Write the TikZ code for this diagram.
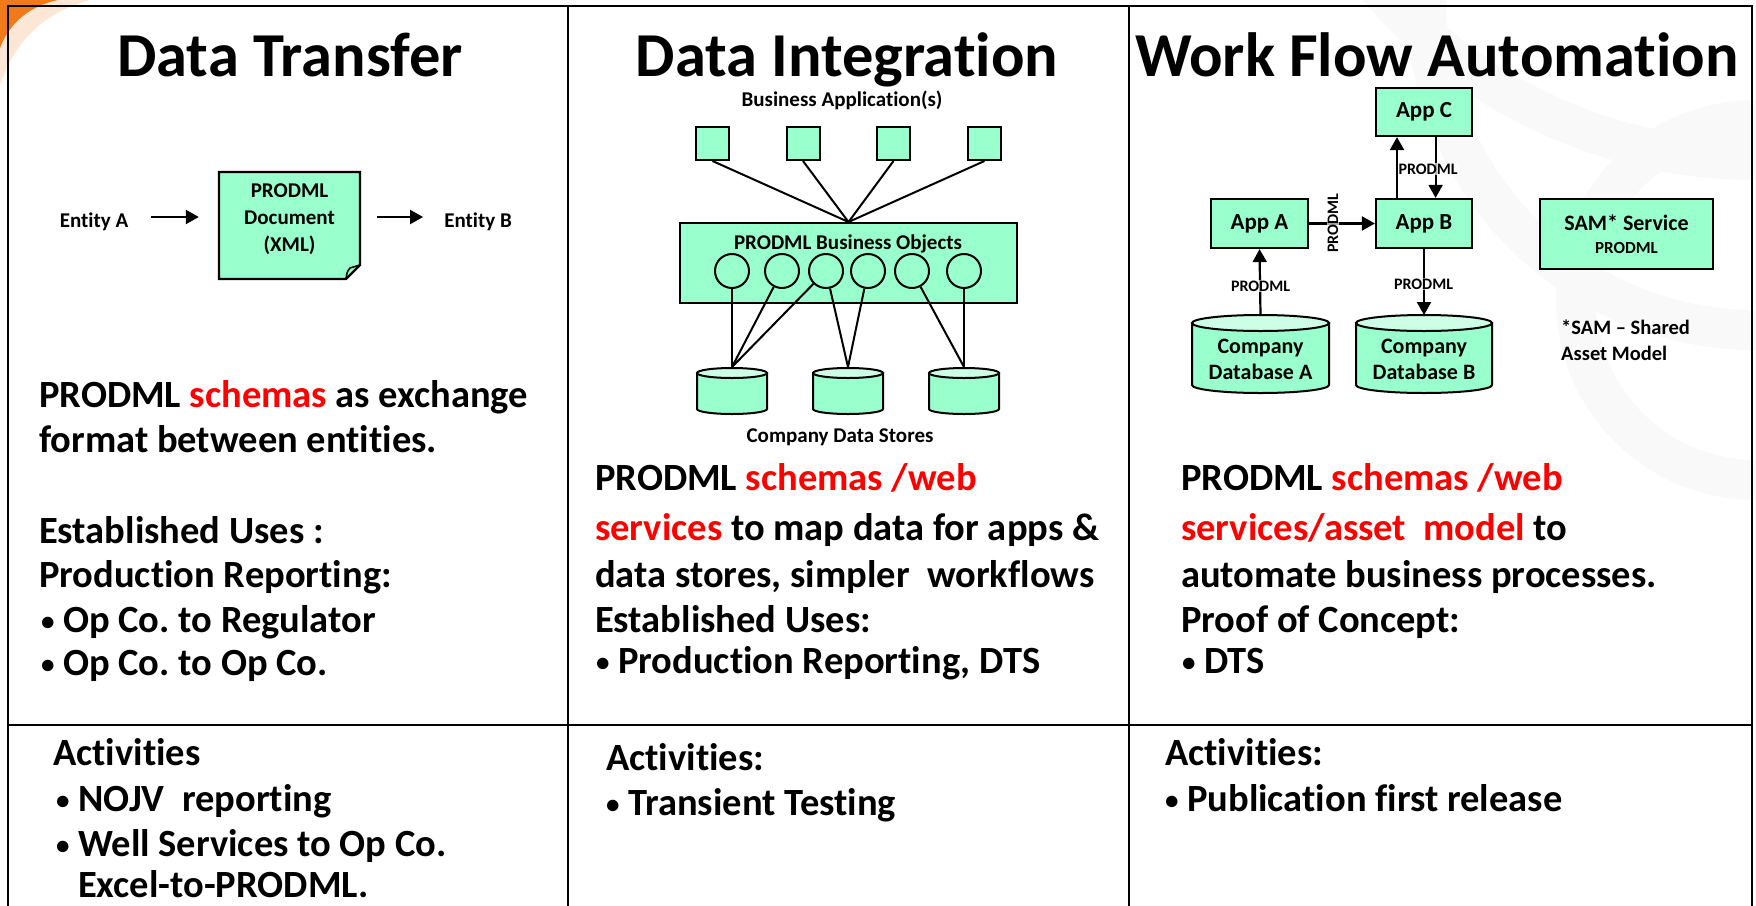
\documentclass[tikz,border=0pt]{standalone}
\usepackage{fontspec}
\setmainfont{Carlito}[Ligatures=NoCommon]
\usetikzlibrary{arrows.meta}
\definecolor{mint}{HTML}{99FFCC}
\definecolor{mintl}{HTML}{CCFFE6}
\definecolor{pred}{HTML}{FF0000}
\definecolor{orng}{HTML}{F07A1A}
\frenchspacing
\newcommand{\fs}[1]{\fontsize{#1}{#1}\selectfont\bfseries}
\newcommand{\bul}{\makebox[22pt][l]{\raisebox{2pt}{\fontsize{27}{27}\selectfont •}}}
\newcommand{\rd}[1]{\textcolor{pred}{#1}}
\newcommand{\dbcyl}[6]{%
  \filldraw[fill=mint, line width=2pt] (#2-#5,#3) -- (#2-#5,#4) arc[start angle=180,end angle=0,x radius=#5,y radius=#6] -- (#2+#5,#3) -- cycle;
  \filldraw[fill=mintl, line width=2pt] (#2,#3) ellipse[x radius=#5, y radius=#6];
  \coordinate (#1) at (#2,#3-#6);}
\begin{document}
\begin{tikzpicture}[x=1pt,y=-1pt,
  grid/.style={line width=2.5pt, black},
  box/.style={draw, line width=2.2pt, fill=mint, inner sep=0pt},
  title/.style={anchor=base, inner sep=0pt, font=\fs{62.5}},
  body/.style={anchor=base west, inner sep=0pt, font=\fs{38.5}},
  small/.style={inner sep=0pt, font=\fs{21}},
  arr/.style={-{Triangle[length=13pt,width=14pt]}, line width=2.2pt},
  lbl/.style={font=\fs{16}, inner sep=1pt, fill=white, fill opacity=0.7, text opacity=1},
  link/.style={line width=2pt},
]
\useasboundingbox (0,0) rectangle (1756,905);
\fill[white] (0,0) rectangle (1756,905);
% faint watermark arcs
\begin{scope}[black!2.5, line width=40pt]
  \draw (1756,330) arc[start angle=90, end angle=270, radius=330];
  \draw (1756,480) arc[start angle=90, end angle=270, radius=180];
  \draw (1756,160) arc[start angle=90, end angle=270, radius=500];
\end{scope}
% orange corner
\fill[orng!18] (0,0) -- (90,0) .. controls (45,12) and (15,40) .. (0,85) -- cycle;
\fill[orng] (0,0) -- (58,0) .. controls (30,6) and (10,22) .. (0,48) -- cycle;
% grid
\draw[grid] (8,930) -- (8,6) -- (1752,6) -- (1752,930);
\draw[grid] (568,6) -- (568,930);
\draw[grid] (1129,6) -- (1129,930);
\draw[grid] (8,725) -- (1752,725);
% titles
\node[title] (t1) at (290,76) {Data Transfer};
\node[title] (t2) at (847,76) {Data Integration};
\node[title] (t3) at (1437,76) {Work Flow Automation};
% ---- column 1 diagram
\node[small, anchor=base] (ea) at (94,227) {Entity A};
\node[small, anchor=base] (eb) at (478,227) {Entity B};
\node[inner sep=0pt, minimum width=141, minimum height=107] (doc) at (289.5,225.5) {};
\filldraw[fill=mint, line width=2.2pt] (219,172) -- (360,172) -- (360,265) -- (346,279) -- (219,279) -- cycle;
\draw[line width=1.6pt] (346,279) .. controls (347,272) .. (350,268) -- (360,265);
\node[inner sep=0pt, align=center, font=\fontsize{21}{27}\selectfont\bfseries] (doct) at (289.5,219) {PRODML\\Document\\(XML)};
\coordinate (ay) at (0,217);
\draw[arr, shorten <=23pt, shorten >=20pt] (ea.east |- ay) -- (doc.west |- ay);
\draw[arr, shorten <=17pt, shorten >=21pt] (doc.east |- ay) -- (eb.west |- ay);
% ---- column 2 diagram
\node[small, anchor=base] (ba) at (842,106) {Business Application(s)};
\node[box, line width=2pt, minimum size=33] (s1) at (712.5,143.5) {};
\node[box, line width=2pt, minimum size=33] (s2) at (803,143.5) {};
\node[box, line width=2pt, minimum size=33] (s3) at (893.5,143.5) {};
\node[box, line width=2pt, minimum size=33] (s4) at (984.5,143.5) {};
\node[box, line width=2pt, minimum width=337, minimum height=80] (bo) at (848.5,263) {};
\foreach \s in {s1,s2,s3,s4} \draw[link] (\s.south) -- (bo.north);
\node[small, anchor=base] (bot) at (848,249) {PRODML Business Objects};
\foreach \n/\x in {c1/732,c2/782,c3/826,c4/868,c5/912,c6/964}
  \node[circle, draw, line width=2pt, minimum size=34, inner sep=0pt] (\n) at (\x,271) {};
\coordinate (d1) at (732,367);
\coordinate (d2) at (848,367);
\coordinate (d3) at (964,367);
\draw[link] (c1) -- (d1);
\draw[link] (c2) -- (d1);
\draw[link] (c3) -- (d1);
\draw[link] (c3) -- (d2);
\draw[link] (c4) -- (d2);
\draw[link] (c5) -- (d3);
\draw[link] (c6) -- (d3);
\dbcyl{cy1}{732}{373}{409}{35}{5}
\dbcyl{cy2}{848}{373}{409}{35}{5}
\dbcyl{cy3}{964}{373}{409}{35}{5}
\node[small, anchor=base] (cds) at (840,442) {Company Data Stores};
% ---- column 3 diagram
\node[box, minimum width=96, minimum height=48, font=\fs{23}] (appc) at (1424,112) {App C};
\node[box, minimum width=97, minimum height=49, font=\fs{23}] (appa) at (1259.5,223.5) {App A};
\node[box, minimum width=96, minimum height=49, font=\fs{23}] (appb) at (1424,223.5) {App B};
\node[box, minimum width=173, minimum height=70] (sam) at (1626.5,234) {};
\node[anchor=base, inner sep=0pt, font=\fs{22}] (samt) at (1626.5,230) {SAM* Service};
\node[anchor=base, inner sep=0pt, font=\fs{17}] (samp) at (1626.5,253) {PRODML};
\node[anchor=base west, inner sep=0pt, font=\fs{20.5}] (note1) at (1561,334) {*SAM – Shared};
\node[anchor=base west, inner sep=0pt, font=\fs{20.5}] (note2) at (1561,360) {Asset Model};
\dbcyl{cya}{1260.5}{323}{385}{68.5}{8}
\dbcyl{cyb}{1424}{323}{385}{68}{8}
\node[anchor=base, inner sep=0pt, font=\fs{22}] (cyat1) at (1260.5,353) {Company};
\node[anchor=base, inner sep=0pt, font=\fs{22}] (cyat2) at (1260.5,379) {Database A};
\node[anchor=base, inner sep=0pt, font=\fs{22}] (cybt1) at (1424,353) {Company};
\node[anchor=base, inner sep=0pt, font=\fs{22}] (cybt2) at (1424,379) {Database B};
\coordinate (u) at (1397,0);
\coordinate (v) at (1435.6,0);
\draw[arr] (cya) -- (appa.south);
\draw[arr] (appa) -- (appb);
\draw[arr] (appb.north -| u) -- (appc.south -| u);
\draw[arr] (appc.south -| v) -- (appb.north -| v);
\draw[arr] (appb.south) -- (cyb);
\node[lbl] (l1) at (1260.5,286) {PRODML};
\node[lbl, rotate=90] (l2) at (1333,223) {PRODML};
\node[lbl] (l3) at (1428,169) {PRODML};
\node[lbl] (l4) at (1423.5,284) {PRODML};
% ---- body text column 1
\node[body] (a1) at (39,407) {PRODML \rd{schemas} as exchange};
\node[body] (a2) at (39,452) {format between entities.};
\node[body] (a3) at (39,543) {Established Uses :};
\node[body] (a4) at (39,587) {Production Reporting:};
\node[body] (a5) at (41,632) {\bul Op Co. to Regulator};
\node[body] (a6) at (41,675) {\bul Op Co. to Op Co.};
% column 2
\node[body] (b1) at (595,490) {PRODML \rd{schemas /web}};
\node[body] (b2) at (595,540) {\rd{services} to map data for apps \&};
\node[body] (b3) at (595,587) {data stores, simpler\ \ workflows};
\node[body] (b4) at (595,632) {Established Uses:};
\node[body] (b5) at (596,673) {\bul Production Reporting, DTS};
% column 3
\node[body] (c31) at (1181,490) {PRODML \rd{schemas /web}};
\node[body] (c32) at (1181,540) {\rd{services/asset\ \ model} to};
\node[body] (c33) at (1181,587) {automate business processes.};
\node[body] (c34) at (1181,632) {Proof of Concept:};
\node[body] (c35) at (1182,673) {\bul DTS};
% activities
\node[body] (e1) at (53,765) {Activities};
\node[body] (e2) at (56,811) {\bul NOJV\ \ reporting};
\node[body] (e3) at (56,856) {\bul Well Services to Op Co.};
\node[body] (e4) at (78,897) {Excel-to-PRODML.};
\node[body] (f1) at (606,770) {Activities:};
\node[body] (f2) at (606,815) {\bul Transient Testing};
\node[body] (g1) at (1165,765) {Activities:};
\node[body] (g2) at (1165,811) {\bul Publication first release};
\end{tikzpicture}
\end{document}
